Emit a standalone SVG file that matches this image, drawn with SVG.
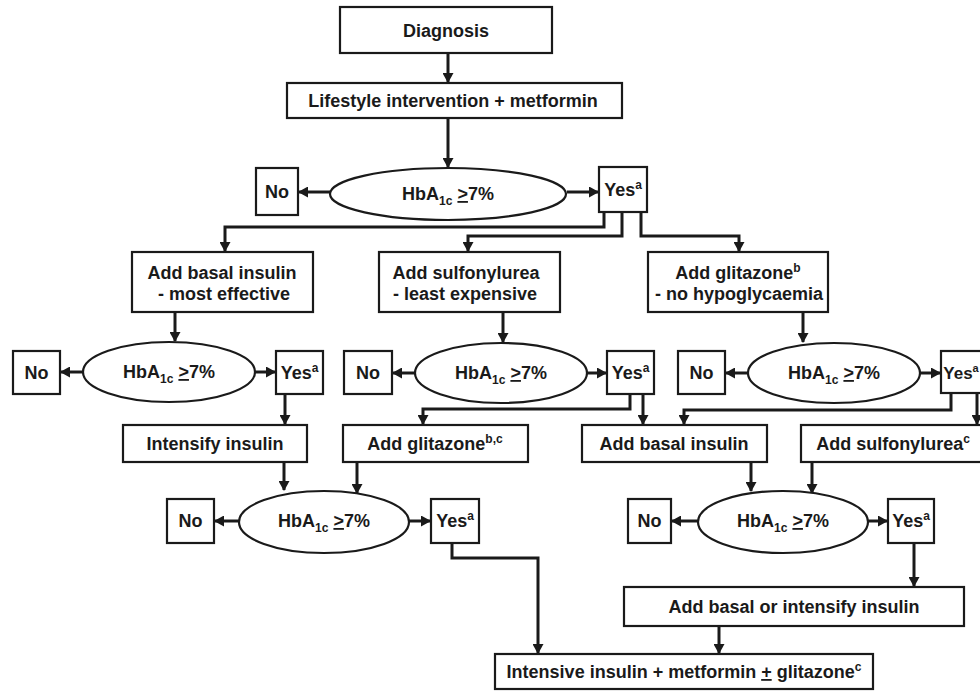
<svg xmlns="http://www.w3.org/2000/svg" width="980" height="691" viewBox="0 0 980 691">
<defs>
<marker id="ah" markerUnits="userSpaceOnUse" markerWidth="11" markerHeight="11" refX="9" refY="5.5" orient="auto">
<path d="M0,0 L10,5.5 L0,11 z" fill="#1a1a1a"/>
</marker>
<style>
.b{fill:#fff;stroke:#1a1a1a;stroke-width:2.2}
.t{font-family:"Liberation Sans",Arial,Helvetica,sans-serif;font-weight:bold;font-size:18px;fill:#1a1a1a;text-anchor:middle}
.s{font-size:12px}
.c{fill:none;stroke:#1a1a1a;stroke-width:3;marker-end:url(#ah)}
</style>
</defs>
<rect width="980" height="691" fill="#fff"/>

<g id="connectors">
<path class="c" d="M448,53 V82"/>
<path class="c" d="M448,118 V167"/>
<path class="c" d="M330,192 H299"/>
<path class="c" d="M567,192 H598"/>
<path class="c" d="M604,212 V227 H225 V251"/>
<path class="c" d="M622,212 V236 H468 V251"/>
<path class="c" d="M641,212 V236 H739 V251"/>

<path class="c" d="M175,312 V341"/>
<path class="c" d="M83,372 H61"/>
<path class="c" d="M255,372 H275"/>
<path class="c" d="M285,394 V424"/>

<path class="c" d="M503,312 V342"/>
<path class="c" d="M415,373 H393"/>
<path class="c" d="M587,373 H606"/>
<path class="c" d="M630,394 V409 H423 V424"/>
<path class="c" d="M643,394 V424"/>

<path class="c" d="M803,312 V342"/>
<path class="c" d="M748,373 H726"/>
<path class="c" d="M920,373 H940"/>
<path class="c" d="M951,393 V410 H684 V424"/>
<path class="c" d="M977,393 V424"/>

<path class="c" d="M284,462 V490"/>
<path class="c" d="M357,462 V493"/>
<path class="c" d="M239,521 H215"/>
<path class="c" d="M409,521 H430"/>
<path class="c" d="M452,543 V558 H538 V653"/>

<path class="c" d="M751,462 V491"/>
<path class="c" d="M812,462 V493"/>
<path class="c" d="M698,521 H672"/>
<path class="c" d="M868,521 H887"/>
<path class="c" d="M914,543 V586"/>
<path class="c" d="M719,626 V653"/>
</g>

<g id="diagnosis">
<rect class="b" x="340" y="7" width="212" height="46"/>
<text class="t" x="446" y="37">Diagnosis</text>
</g>
<g id="lifestyle">
<rect class="b" x="287" y="83" width="335" height="35"/>
<text class="t" x="453" y="107">Lifestyle intervention + metformin</text>
</g>
<g id="hba1">
<ellipse class="b" cx="448" cy="194" rx="118" ry="26"/>
<text class="t" x="448" y="200">HbA<tspan class="s" dy="5">1c</tspan><tspan dy="-5"> </tspan><tspan text-decoration="underline">&gt;</tspan>7%</text>
</g>
<g id="no1">
<rect class="b" x="256" y="168" width="42" height="47"/>
<text class="t" x="277" y="198">No</text>
</g>
<g id="yes1">
<rect class="b" x="599" y="167" width="48" height="45"/>
<text class="t" x="623" y="196">Yes<tspan class="s" dy="-7">a</tspan></text>
</g>

<g id="basal">
<rect class="b" x="132" y="252" width="181" height="60"/>
<text class="t" x="222" y="279">Add basal insulin</text>
<text class="t" x="224" y="300">- most effective</text>
</g>
<g id="sulfonylurea">
<rect class="b" x="379" y="252" width="181" height="60"/>
<text class="t" x="466" y="279">Add sulfonylurea</text>
<text class="t" x="465" y="300">- least expensive</text>
</g>
<g id="glitazone">
<rect class="b" x="648" y="252" width="180" height="60"/>
<text class="t" x="738" y="279">Add glitazone<tspan class="s" dy="-7">b</tspan></text>
<text class="t" x="739" y="300">- no hypoglycaemia</text>
</g>

<g id="hba2">
<ellipse class="b" cx="169" cy="372" rx="86" ry="30"/>
<text class="t" x="169" y="378">HbA<tspan class="s" dy="5">1c</tspan><tspan dy="-5"> </tspan><tspan text-decoration="underline">&gt;</tspan>7%</text>
</g>
<g id="no2">
<rect class="b" x="13" y="351" width="47" height="43"/>
<text class="t" x="36.5" y="379">No</text>
</g>
<g id="yes2">
<rect class="b" x="276" y="351" width="47" height="43"/>
<text class="t" x="299.5" y="379">Yes<tspan class="s" dy="-7">a</tspan></text>
</g>

<g id="hba3">
<ellipse class="b" cx="501" cy="373" rx="86" ry="30"/>
<text class="t" x="501" y="379">HbA<tspan class="s" dy="5">1c</tspan><tspan dy="-5"> </tspan><tspan text-decoration="underline">&gt;</tspan>7%</text>
</g>
<g id="no3">
<rect class="b" x="344" y="351" width="48" height="43"/>
<text class="t" x="368" y="379">No</text>
</g>
<g id="yes3">
<rect class="b" x="607" y="351" width="47" height="43"/>
<text class="t" x="630.5" y="379">Yes<tspan class="s" dy="-7">a</tspan></text>
</g>

<g id="hba4">
<ellipse class="b" cx="834" cy="373" rx="86" ry="30"/>
<text class="t" x="834" y="379">HbA<tspan class="s" dy="5">1c</tspan><tspan dy="-5"> </tspan><tspan text-decoration="underline">&gt;</tspan>7%</text>
</g>
<g id="no4">
<rect class="b" x="678" y="351" width="47" height="43"/>
<text class="t" x="701.5" y="379">No</text>
</g>
<g id="yes4">
<rect class="b" x="941" y="351" width="48" height="42"/>
<text class="t" x="961" y="379" style="font-size:17px">Yes<tspan style="font-size:11px" dy="-7">a</tspan></text>
</g>

<g id="intensify">
<rect class="b" x="123" y="425" width="184" height="37"/>
<text class="t" x="215" y="450">Intensify insulin</text>
</g>
<g id="glitazone2">
<rect class="b" x="343" y="425" width="185" height="37"/>
<text class="t" x="435" y="450">Add glitazone<tspan class="s" dy="-7">b,c</tspan></text>
</g>
<g id="basal2">
<rect class="b" x="582" y="425" width="185" height="37"/>
<text class="t" x="674" y="450">Add basal insulin</text>
</g>
<g id="sulfonylurea2">
<rect class="b" x="801" y="425" width="190" height="37"/>
<text class="t" x="893" y="450">Add sulfonylurea<tspan class="s" dy="-7">c</tspan></text>
</g>

<g id="hba5">
<ellipse class="b" cx="324" cy="522" rx="85" ry="31"/>
<text class="t" x="324" y="527">HbA<tspan class="s" dy="5">1c</tspan><tspan dy="-5"> </tspan><tspan text-decoration="underline">&gt;</tspan>7%</text>
</g>
<g id="no5">
<rect class="b" x="167" y="499" width="47" height="44"/>
<text class="t" x="190.5" y="527">No</text>
</g>
<g id="yes5">
<rect class="b" x="431" y="499" width="48" height="44"/>
<text class="t" x="455" y="527">Yes<tspan class="s" dy="-7">a</tspan></text>
</g>

<g id="hba6">
<ellipse class="b" cx="783" cy="522" rx="85" ry="31"/>
<text class="t" x="783" y="527">HbA<tspan class="s" dy="5">1c</tspan><tspan dy="-5"> </tspan><tspan text-decoration="underline">&gt;</tspan>7%</text>
</g>
<g id="no6">
<rect class="b" x="628" y="499" width="43" height="44"/>
<text class="t" x="649.5" y="527">No</text>
</g>
<g id="yes6">
<rect class="b" x="888" y="499" width="46" height="44"/>
<text class="t" x="911" y="527">Yes<tspan class="s" dy="-7">a</tspan></text>
</g>

<g id="basal-or-intensify">
<rect class="b" x="624" y="587" width="340" height="39"/>
<text class="t" x="794" y="613">Add basal or intensify insulin</text>
</g>
<g id="intensive">
<rect class="b" x="495" y="654" width="378" height="35"/>
<text class="t" x="684" y="678">Intensive insulin + metformin <tspan text-decoration="underline">+</tspan> glitazone<tspan class="s" dy="-7">c</tspan></text>
</g>
</svg>
